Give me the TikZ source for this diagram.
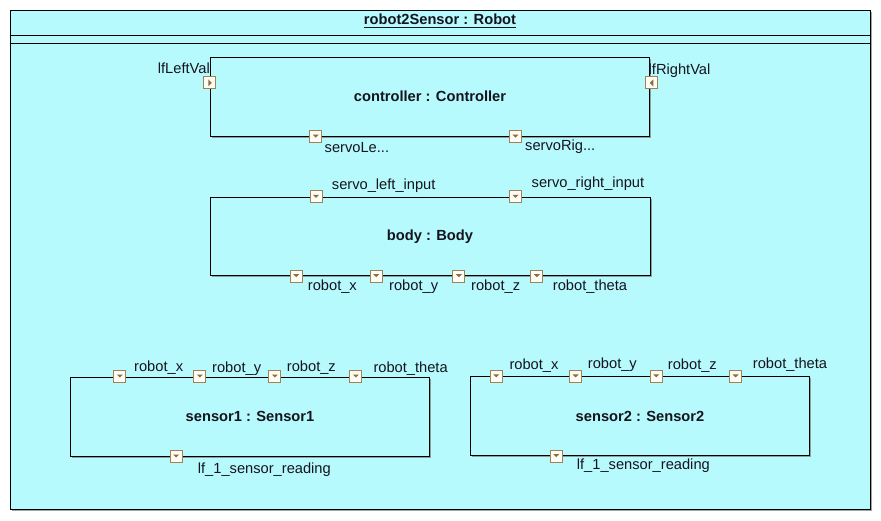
\documentclass[tikz,border=0pt]{standalone}
\usepackage{fontspec}
\setmainfont{Liberation Sans}
\usetikzlibrary{positioning, shadows}
\definecolor{RobotCyan}{RGB}{183,250,253}
\definecolor{PortBrown}{RGB}{160,130,85}
\definecolor{PortFill}{RGB}{255,252,245}
\definecolor{PortTip}{RGB}{140,110,60}
\definecolor{LabelInk}{RGB}{20,20,30}
\newcommand{\umlfont}{\fontsize{14.67}{17}\selectfont}

\begin{document}
\begin{tikzpicture}[x=1pt, y=-1pt, every node/.style={font=\umlfont, text=LabelInk},
  part/.style={rectangle, draw=black, line width=1pt, fill=RobotCyan, inner sep=0pt, font=\umlfont\bfseries,
    drop shadow={shadow xshift=1.5pt, shadow yshift=-1.5pt, fill=black!60, opacity=0.6}},
  port/.style={rectangle, draw=PortBrown, fill=PortFill, line width=0.8pt, minimum size=12pt, inner sep=0pt},
  portdown/.style={port, path picture={\fill[PortTip] ([shift={(-3pt,2pt)}]path picture bounding box.center) -- ++(6pt,0pt) -- ++(-3pt,-3pt) -- cycle;}},
  portright/.style={port, path picture={\fill[PortTip] ([shift={(-1.5pt,3.5pt)}]path picture bounding box.center) -- ++(0pt,-7pt) -- ++(3.5pt,3.5pt) -- cycle;}},
  portleft/.style={port, path picture={\fill[PortTip] ([shift={(1.5pt,3.5pt)}]path picture bounding box.center) -- ++(0pt,-7pt) -- ++(-3.5pt,3.5pt) -- cycle;}},
  lbl/.style={inner sep=0pt, anchor=base west}
]
    \useasboundingbox (0,0) rectangle (881,521);

    \node[part, minimum width=860pt, minimum height=499pt] (robot) at (440,260) {};
    \node[inner sep=0pt, anchor=base, font=\umlfont\bfseries] (title) at (440,25) {robot2Sensor : Robot};
    \draw[line width=1.2pt, LabelInk] ([yshift=-2.7pt]title.base west) -- ([yshift=-2.7pt]title.base east);
    \draw[line width=1pt] (robot.west |- 0,35.5) -- (robot.east |- 0,35.5);
    \draw[line width=1pt] (robot.west |- 0,43.5) -- (robot.east |- 0,43.5);

    \node[part, minimum width=439.5pt, minimum height=78.7pt] (ctrl) at (430,96.7) {controller : Controller};
    \node[part, minimum width=440pt, minimum height=78.4pt] (body) at (430,236.5) {body : Body};
    \node[part, minimum width=359pt, minimum height=79pt] (sensor1) at (250,416.5) {sensor1 : Sensor1};
    \node[part, minimum width=338.5pt, minimum height=78.7pt] (sensor2) at (640,416.3) {sensor2 : Sensor2};

    \node[portright] (ctrl-lv) at ([yshift=-26pt]ctrl.north west) {};
    \node[portleft] (ctrl-rv) at ([yshift=-26pt, xshift=1.5pt]ctrl.north east) {};
    \node[portdown] (ctrl-sl) at ([xshift=106pt]ctrl.south west) {};
    \node[portdown] (ctrl-sr) at ([xshift=305.7pt]ctrl.south west) {};

    \node[portdown] (body-sl) at ([xshift=106.5pt]body.north west) {};
    \node[portdown] (body-sr) at ([xshift=306pt]body.north west) {};
    \node[portdown] (body-x) at ([xshift=86.7pt]body.south west) {};
    \node[portdown] (body-y) at ([xshift=166.7pt]body.south west) {};
    \node[portdown] (body-z) at ([xshift=249.3pt]body.south west) {};
    \node[portdown] (body-t) at ([xshift=327.3pt]body.south west) {};

    \node[portdown] (s1-x) at ([xshift=49.8pt]sensor1.north west) {};
    \node[portdown] (s1-y) at ([xshift=129.8pt]sensor1.north west) {};
    \node[portdown] (s1-z) at ([xshift=204.8pt]sensor1.north west) {};
    \node[portdown] (s1-t) at ([xshift=285.8pt]sensor1.north west) {};
    \node[portdown] (s1-r) at ([xshift=106.2pt]sensor1.south west) {};

    \node[portdown] (s2-x) at ([xshift=26pt]sensor2.north west) {};
    \node[portdown] (s2-y) at ([xshift=105.3pt]sensor2.north west) {};
    \node[portdown] (s2-z) at ([xshift=186pt]sensor2.north west) {};
    \node[portdown] (s2-t) at ([xshift=265.3pt]sensor2.north west) {};
    \node[portdown] (s2-r) at ([xshift=86pt]sensor2.south west) {};

    \node[lbl, anchor=base east] (lbl-lv) at (210,73.3) {lfLeftVal};
    \node[lbl] (lbl-rv) at (648.5,75) {lfRightVal};
    \node[lbl] (lbl-csl) at (324.5,153) {servoLe...};
    \node[lbl] (lbl-csr) at (525,150.5) {servoRig...};

    \node[lbl, anchor=base] (lbl-bsl) at (383.7,190) {servo\_left\_input};
    \node[lbl] (lbl-bsr) at (531.5,187.7) {servo\_right\_input};
    \node[lbl] (lbl-bx) at (307.7,290.7) {robot\_x};
    \node[lbl] (lbl-by) at (389,290.7) {robot\_y};
    \node[lbl] (lbl-bz) at (471,290.7) {robot\_z};
    \node[lbl] (lbl-bt) at (552.7,290.7) {robot\_theta};

    \node[lbl] (lbl-s1x) at (134,371.7) {robot\_x};
    \node[lbl] (lbl-s1y) at (212,372.7) {robot\_y};
    \node[lbl] (lbl-s1z) at (286.7,371.7) {robot\_z};
    \node[lbl] (lbl-s1t) at (373.3,372.7) {robot\_theta};
    \node[lbl] (lbl-s1r) at (197.7,473.3) {lf\_1\_sensor\_reading};

    \node[lbl] (lbl-s2x) at (509.3,370) {robot\_x};
    \node[lbl] (lbl-s2y) at (587.7,368.3) {robot\_y};
    \node[lbl] (lbl-s2z) at (667.7,370) {robot\_z};
    \node[lbl] (lbl-s2t) at (752.7,368.3) {robot\_theta};
    \node[lbl] (lbl-s2r) at (576.7,469.3) {lf\_1\_sensor\_reading};
\end{tikzpicture}
\end{document}
